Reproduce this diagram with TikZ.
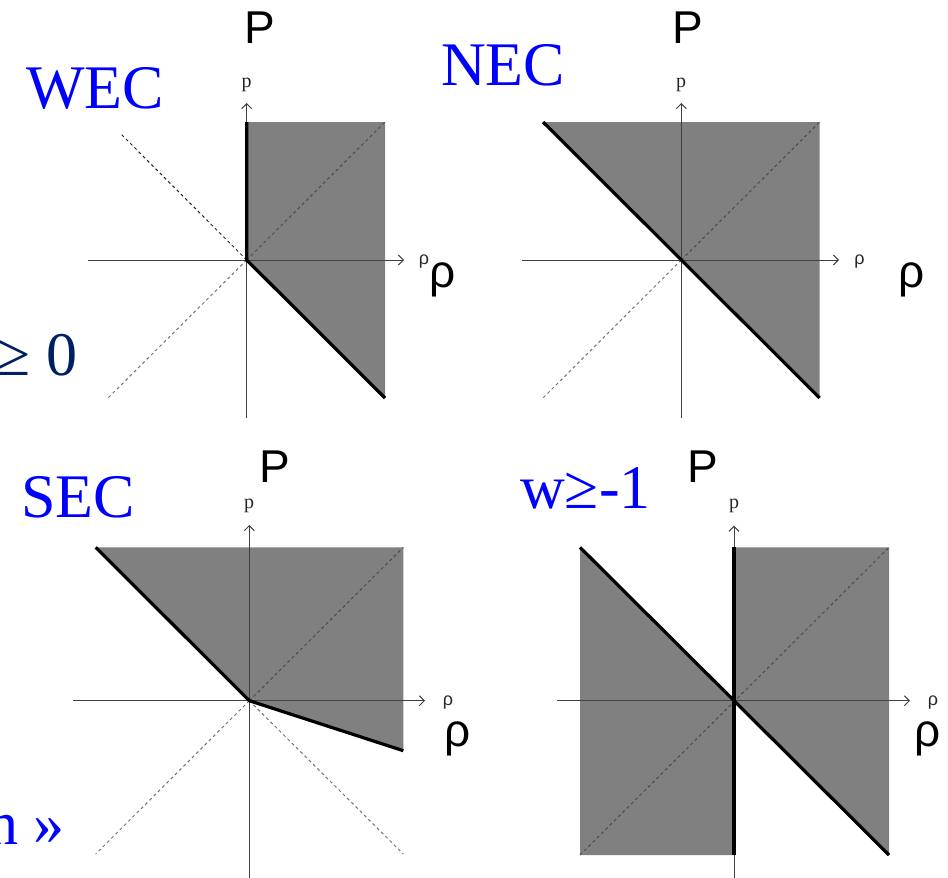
\documentclass[tikz,border=0pt]{standalone}
\usepackage{fontspec}
\setmainfont{Liberation Serif}
\newfontfamily\sansf{Liberation Sans}
\usetikzlibrary{arrows.meta}
\definecolor{navy}{RGB}{0,32,96}
\definecolor{regiongray}{RGB}{128,128,128}
\definecolor{condblue}{RGB}{0,0,255}
\begin{document}
\begin{tikzpicture}[x=1pt,y=-1pt,
  region/.style={fill=regiongray, draw=none},
  axis/.style={draw=black!75, line width=1pt, -{Straight Barb[length=5pt,width=10pt]}},
  guide/.style={draw=black!55, dash pattern=on 3pt off 3pt, line width=1pt},
  guidedark/.style={guide, draw=black!85},
  bound/.style={line width=3.2pt, draw=black},
  cond/.style={text=condblue, font=\fontsize{62}{62}\selectfont, inner sep=0pt},
  bigaxis/.style={font=\sansf\fontsize{46}{46}\selectfont, inner sep=0pt},
  smallp/.style={font=\fontsize{20}{20}\selectfont, inner sep=0pt, text=black!85},
  smallrho/.style={font=\sansf\fontsize{18}{18}\selectfont, inner sep=0pt, text=black!85},
]
\useasboundingbox (0,0) rectangle (948,878);

% ---------------- Panel 1: WEC ----------------
\coordinate (o1) at (246.7,260);
\coordinate (t1) at (246.7,122);
\coordinate (tr1) at (385,122);
\coordinate (br1) at (385,398);
\coordinate (ul1) at (120,133);
\coordinate (bl1) at (108,398);
\coordinate (xs1) at (88,260);
\coordinate (xe1) at (404,260);
\coordinate (ys1) at (246.7,418);
\coordinate (ye1) at (246.7,103);
\fill[region] (o1) -- (t1) -- (tr1) -- (br1) -- cycle;
\draw[axis] (xs1) -- (xe1);
\draw[axis] (ys1) -- (ye1);
\draw[guidedark] (o1) -- (ul1);
\draw[guide] (o1) -- (bl1);
\draw[guide, draw=black!70] (o1) -- (tr1);
\draw[bound] (t1) -- (o1) -- (br1);

% ---------------- Panel 2: NEC ----------------
\coordinate (o2) at (681.3,260);
\coordinate (tl2) at (543,122);
\coordinate (tr2) at (819.7,122);
\coordinate (br2) at (819.7,398);
\coordinate (bl2) at (543,398);
\coordinate (xs2) at (522,260);
\coordinate (xe2) at (839,260);
\coordinate (ys2) at (681.3,418);
\coordinate (ye2) at (681.3,103);
\fill[region] (tl2) -- (tr2) -- (br2) -- cycle;
\draw[axis] (xs2) -- (xe2);
\draw[axis] (ys2) -- (ye2);
\draw[guide] (o2) -- (bl2);
\draw[guide, draw=black!70] (o2) -- (tr2);
\draw[bound] (tl2) -- (br2);

% ---------------- Panel 3: SEC ----------------
\coordinate (o3) at (249.3,700.7);
\coordinate (tl3) at (95.7,547.3);
\coordinate (tr3) at (403.3,547.3);
\coordinate (r3) at (403.3,750.7);
\coordinate (bl3) at (95.7,854);
\coordinate (br3) at (403.3,854);
\coordinate (xs3) at (72.7,700.7);
\coordinate (xe3) at (425,700.7);
\coordinate (ys3) at (249.3,880);
\coordinate (ye3) at (249.3,525);
\fill[region] (tl3) -- (tr3) -- (r3) -- (o3) -- cycle;
\draw[axis] (xs3) -- (xe3);
\draw[axis] (ys3) -- (ye3);
\draw[guide] (o3) -- (bl3);
\draw[guide] (o3) -- (br3);
\draw[guide, draw=black!70] (o3) -- (tr3);
\draw[bound] (tl3) -- (o3) -- (r3);

% ---------------- Panel 4: w >= -1 ----------------
\coordinate (o4) at (734,700.7);
\coordinate (tl4) at (580,547.3);
\coordinate (t4) at (734,547.3);
\coordinate (tr4) at (889,547.3);
\coordinate (br4) at (889,855);
\coordinate (bl4) at (580,855);
\coordinate (b4) at (734,855);
\coordinate (xs4) at (557,700.7);
\coordinate (xe4) at (910,700.7);
\coordinate (ys4) at (734,880);
\coordinate (ye4) at (734,525.7);
\fill[region] (tl4) -- (o4) -- (b4) -- (bl4) -- cycle;
\fill[region] (t4) -- (tr4) -- (br4) -- (o4) -- cycle;
\draw[axis] (xs4) -- (xe4);
\draw[axis] (ys4) -- (ye4);
\draw[guide, draw=black!70] (bl4) -- (tr4);
\draw[bound] (t4) -- (b4);
\draw[bound] (tl4) -- (br4);

% ---------------- Texts ----------------
\node[cond, anchor=base west] (wec) at (26,108) {WEC};
\node[cond, anchor=base west] (nec) at (441,85) {NEC};
\node[cond, anchor=base west] (sec) at (21,517) {SEC};
\node[cond, anchor=base west] (wge) at (520,508) {w≥-1};
\node[cond, anchor=base east, text=navy] (geq) at (77.5,375) {≥ 0};
\node[cond, anchor=base east] (quote) at (65,844) {n »};

\node[bigaxis, anchor=base west] (P1) at (244,43) {P};
\node[bigaxis, anchor=base west] (P2) at (672,43) {P};
\node[bigaxis, anchor=base west] (P3) at (259,482) {P};
\node[bigaxis, anchor=base west] (P4) at (687,482) {P};
\node[bigaxis, anchor=base west] (R1) at (429,287) {ρ};
\node[bigaxis, anchor=base west] (R2) at (898,287) {ρ};
\node[bigaxis, anchor=base west] (R3) at (444,746) {ρ};
\node[bigaxis, anchor=base west] (R4) at (914,746) {ρ};

\node[smallp] (p1) at (246.7,85) {p};
\node[smallp] (p2) at (681.2,85) {p};
\node[smallp] (p3) at (249,506) {p};
\node[smallp] (p4) at (734,506) {p};
\node[smallrho] (r1) at (424,261.5) {ρ};
\node[smallrho] (r2) at (859.5,261.5) {ρ};
\node[smallrho] (r3) at (448,703) {ρ};
\node[smallrho] (r4) at (933,703) {ρ};
\end{tikzpicture}
\end{document}
